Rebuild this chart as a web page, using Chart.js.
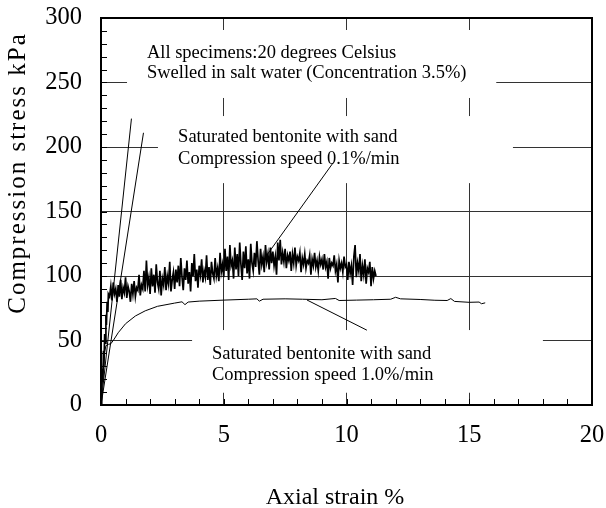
<!DOCTYPE html>
<html>
<head>
<meta charset="utf-8">
<script src="https://cdn.jsdelivr.net/npm/chart.js@4.4.1/dist/chart.umd.min.js"></script>
<style>
  html, body { margin: 0; padding: 0; background: #fff; }
  #wrap { width: 606px; height: 508px; }
</style>
</head>
<body>
<div id="wrap"><canvas id="compressionChart" width="606" height="508"></canvas></div>
<script>
// x ticks / y ticks
const strainTicks = [0, 5, 10, 15, 20];
const stressTicks = [0, 50, 100, 150, 200, 250, 300];

// compression speed 0.1%/min (noisy record) -- [strain %, stress kPa]
const slowSpeedPoints = [
  [0, 0], [0.03, 12], [0.06, 28], [0.08, 18], [0.1, 42], [0.12, 30], [0.15, 55], [0.18, 48], [0.2, 70], [0.22, 62],
  [0.25, 80], [0.28, 72], [0.3, 86], [0.35, 84], [0.4, 92], [0.45, 81], [0.5, 95], [0.55, 86], [0.6, 90], [0.65, 80],
  [0.7, 93], [0.75, 84], [0.8, 97], [0.85, 82], [0.9, 91], [0.95, 87], [1.0, 99], [1.05, 83], [1.1, 92], [1.15, 88],
  [1.2, 80], [1.25, 94], [1.3, 86], [1.35, 96], [1.4, 84], [1.45, 91], [1.5, 89], [1.55, 101], [1.6, 85], [1.65, 93],
  [1.7, 90], [1.75, 104], [1.8, 88], [1.85, 112], [1.9, 93], [1.95, 99], [2.0, 86], [2.05, 106], [2.1, 92], [2.15, 101],
  [2.2, 87], [2.25, 109], [2.3, 95], [2.35, 90], [2.4, 104], [2.45, 85], [2.5, 98], [2.55, 93], [2.6, 107], [2.65, 89],
  [2.7, 100], [2.75, 94], [2.8, 111], [2.85, 88], [2.9, 97], [2.95, 103], [3.0, 90], [3.05, 105], [3.1, 95], [3.15, 108],
  [3.2, 92], [3.25, 114], [3.3, 99], [3.35, 89], [3.4, 106], [3.45, 97], [3.5, 112], [3.55, 94], [3.6, 103], [3.65, 88],
  [3.7, 110], [3.75, 100], [3.8, 117], [3.85, 96], [3.9, 105], [3.95, 91], [4.0, 108], [4.05, 101], [4.1, 113], [4.15, 95],
  [4.2, 104], [4.25, 99], [4.3, 116], [4.35, 97], [4.4, 107], [4.45, 93], [4.5, 111], [4.55, 102], [4.6, 98], [4.65, 114],
  [4.7, 100], [4.75, 106], [4.8, 96], [4.85, 118], [4.9, 103], [4.95, 109], [5.0, 99], [5.05, 121], [5.1, 104], [5.15, 115],
  [5.2, 97], [5.25, 124], [5.3, 108], [5.35, 112], [5.4, 98], [5.45, 122], [5.5, 105], [5.55, 117], [5.6, 100], [5.65, 126],
  [5.7, 109], [5.75, 97], [5.8, 119], [5.85, 106], [5.9, 123], [5.95, 102], [6.0, 113], [6.05, 98], [6.1, 125], [6.15, 110],
  [6.2, 104], [6.25, 118], [6.3, 107], [6.35, 127], [6.4, 112], [6.45, 101], [6.5, 121], [6.55, 109], [6.6, 115], [6.65, 103],
  [6.7, 124], [6.75, 111], [6.8, 117], [6.85, 105], [6.9, 122], [6.95, 110], [7.0, 119], [7.05, 108], [7.1, 115], [7.15, 101],
  [7.2, 126], [7.25, 112], [7.3, 128], [7.35, 109], [7.4, 118], [7.45, 111], [7.5, 121], [7.55, 106], [7.6, 116], [7.65, 112],
  [7.7, 119], [7.75, 104], [7.8, 117], [7.85, 110], [7.9, 122], [7.95, 108], [8.0, 115], [8.05, 112], [8.1, 118], [8.15, 103],
  [8.2, 114], [8.25, 109], [8.3, 117], [8.35, 106], [8.4, 112], [8.45, 110], [8.5, 116], [8.55, 101], [8.6, 113], [8.65, 108],
  [8.7, 118], [8.75, 107], [8.8, 112], [8.85, 104], [8.9, 115], [8.95, 109], [9.0, 113], [9.05, 105], [9.1, 117], [9.15, 107],
  [9.2, 111], [9.25, 98], [9.3, 114], [9.35, 106], [9.4, 110], [9.45, 108], [9.5, 116], [9.55, 104], [9.6, 109], [9.65, 95],
  [9.7, 112], [9.75, 106], [9.8, 110], [9.85, 103], [9.9, 115], [9.95, 107], [10.0, 109], [10.05, 97], [10.1, 111], [10.15, 102],
  [10.2, 108], [10.25, 93], [10.3, 115], [10.35, 124], [10.4, 99], [10.45, 110], [10.5, 104], [10.55, 117], [10.6, 96], [10.65, 108],
  [10.7, 101], [10.75, 113], [10.8, 94], [10.85, 106], [10.9, 103], [10.95, 111], [11.0, 92], [11.05, 107], [11.1, 98], [11.15, 104],
  [11.2, 100]
];

// compression speed 1.0%/min (smooth record)
const fastSpeedPoints = [
  [0, 0], [0.05, 20], [0.12, 38], [0.2, 46], [0.3, 47], [0.4, 47.5], [0.5, 50], [0.7, 56], [1.0, 63], [1.4, 69],
  [1.8, 73], [2.3, 76.5], [3.0, 79], [3.3, 80], [3.42, 77.8], [3.55, 79.8], [4.0, 80.5], [5.0, 81.3], [6.0, 82], [6.35, 82.3],
  [6.45, 80.5], [6.6, 82], [7.5, 82.3], [8.2, 82], [9.0, 81.6], [9.55, 82.6], [9.7, 81], [10.4, 81.3], [11.1, 81.6], [11.8, 82],
  [12.0, 83.5], [12.2, 82.3], [13.0, 81.8], [13.6, 81.2], [14.1, 81], [14.25, 82.5], [14.4, 80.3], [15.0, 79.6], [15.4, 79.8], [15.5, 78.5],
  [15.65, 79.2]
];

// the two straight reference lines from the origin
const steepLineA = [[0, 0], [1.24, 222]];
const steepLineB = [[0, 0], [1.73, 211]];

// leader lines from the labels to the curves
const leaderSlow = [[9.45, 187.6], [6.76, 116.3]];
const leaderFast = [[8.39, 81.4], [10.83, 58]];

// text labels: box corners and text anchor given in axis units
const noteBoxes = [
  { x0: 1.06, x1: 16.1, y0: 238, y1: 290.7, tx: 1.87, ty: [273, 257.3],
    lines: ["All specimens:20 degrees Celsius", "Swelled in salt water (Concentration 3.5%)"] },
  { x0: 2.32, x1: 16.78, y0: 172, y1: 224, tx: 3.14, ty: [207.8, 190.5],
    lines: ["Saturated bentonite with sand", "Compression speed 0.1%/min"] },
  { x0: 3.71, x1: 18.0, y0: 9.5, y1: 58.1, tx: 4.52, ty: [39.5, 23.3],
    lines: ["Saturated bentonite with sand", "Compression speed 1.0%/min"] }
];

const serif = "'Liberation Serif', 'Times New Roman', serif";

function toXY(arr) {
    return arr.map(p => ({ x: p[0], y: p[1] }));
}

function lineSet(points, width) {
    return {
        data: toXY(points),
        showLine: true,
        borderColor: '#000',
        borderWidth: width,
        pointRadius: 0,
        tension: 0,
        fill: false
    };
}

// fixed axis sizes so the plot box sits where the original one does
function fixSize(prop, size) {
    return s => {
        s[prop] = size;
        s.paddingTop = 0;
        s.paddingBottom = 0;
        s.paddingLeft = 0;
        s.paddingRight = 0;
    };
}

const notesPlugin = {
    id: 'notes',
    beforeDatasetsDraw(chart) {
        const ctx = chart.ctx;
        const xs = chart.scales.x, ys = chart.scales.y;
        ctx.save();
        noteBoxes.forEach(b => {
            const l = xs.getPixelForValue(b.x0), r = xs.getPixelForValue(b.x1);
            const t = ys.getPixelForValue(b.y1), btm = ys.getPixelForValue(b.y0);
            ctx.fillStyle = '#fff';
            ctx.fillRect(l, t, r - l, btm - t);
            ctx.fillStyle = '#000';
            ctx.font = "18.5px " + serif;
            ctx.textAlign = 'left';
            ctx.textBaseline = 'middle';
            b.lines.forEach((txt, i) => {
                ctx.fillText(txt, xs.getPixelForValue(b.tx), ys.getPixelForValue(b.ty[i]));
            });
        });
        ctx.restore();
    },
    afterDatasetsDraw(chart) {
        const ctx = chart.ctx;
        const a = chart.chartArea;
        const xs = chart.scales.x, ys = chart.scales.y;
        ctx.save();
        ctx.strokeStyle = '#000';
        ctx.lineWidth = 1;
        ctx.beginPath();
        // small inside ticks
        for (let v = 1; v < 20; v++) {
            const px = Math.round(xs.getPixelForValue(v)) + 0.5;
            ctx.moveTo(px, a.bottom);
            ctx.lineTo(px, a.bottom - 6);
        }
        for (let v = 10; v < 300; v += 10) {
            const py = Math.round(ys.getPixelForValue(v)) + 0.5;
            ctx.moveTo(a.left, py);
            ctx.lineTo(a.left + 6, py);
        }
        ctx.stroke();
        ctx.lineWidth = 2;
        ctx.strokeRect(a.left, a.top, a.right - a.left, a.bottom - a.top);

        // axis titles
        ctx.fillStyle = '#000';
        ctx.textAlign = 'center';
        ctx.font = "24px " + serif;
        ctx.textBaseline = 'alphabetic';
        ctx.fillText("Axial strain %", 335, 504);

        ctx.font = "25px " + serif;
        ctx.textBaseline = 'middle';
        if ('letterSpacing' in ctx) ctx.letterSpacing = '2px';
        ctx.translate(18.5, 173);
        ctx.rotate(-Math.PI / 2);
        ctx.fillText("Compression stress kPa", 0, 0);
        ctx.restore();
    }
};

const gridColor = ctx => {
    const v = ctx.tick ? ctx.tick.value : null;
    const s = ctx.scale;
    if (v === s.min || v === s.max) return 'rgba(0,0,0,0)';
    return '#333';
};

const ctxCompression = document.getElementById("compressionChart");
new Chart(ctxCompression, {
    type: 'scatter',
    data: {
        datasets: [
            lineSet(slowSpeedPoints, 1.7),
            lineSet(fastSpeedPoints, 1),
            lineSet(steepLineA, 1),
            lineSet(steepLineB, 1),
            lineSet(leaderSlow, 1),
            lineSet(leaderFast, 1)
        ]
    },
    options: {
        responsive: false,
        animation: false,
        layout: { padding: { top: 18, right: 14, bottom: 0, left: 0 } },
        plugins: { legend: { display: false }, tooltip: { enabled: false } },
        scales: {
            x: {
                type: 'linear',
                min: 0,
                max: 20,
                afterFit: fixSize('height', 103),
                afterBuildTicks: s => { s.ticks = strainTicks.map(v => ({ value: v })); },
                grid: { color: gridColor, lineWidth: 1, drawTicks: false },
                border: { display: false },
                ticks: { color: '#000', padding: 16, font: { family: serif, size: 24.5 } }
            },
            y: {
                type: 'linear',
                min: 0,
                max: 300,
                afterFit: fixSize('width', 101),
                afterBuildTicks: s => { s.ticks = stressTicks.map(v => ({ value: v })); },
                grid: { color: gridColor, lineWidth: 1, drawTicks: false },
                border: { display: false },
                ticks: { color: '#000', padding: 19, font: { family: serif, size: 24.5 } }
            }
        }
    },
    plugins: [notesPlugin]
});
</script>
</body>
</html>
